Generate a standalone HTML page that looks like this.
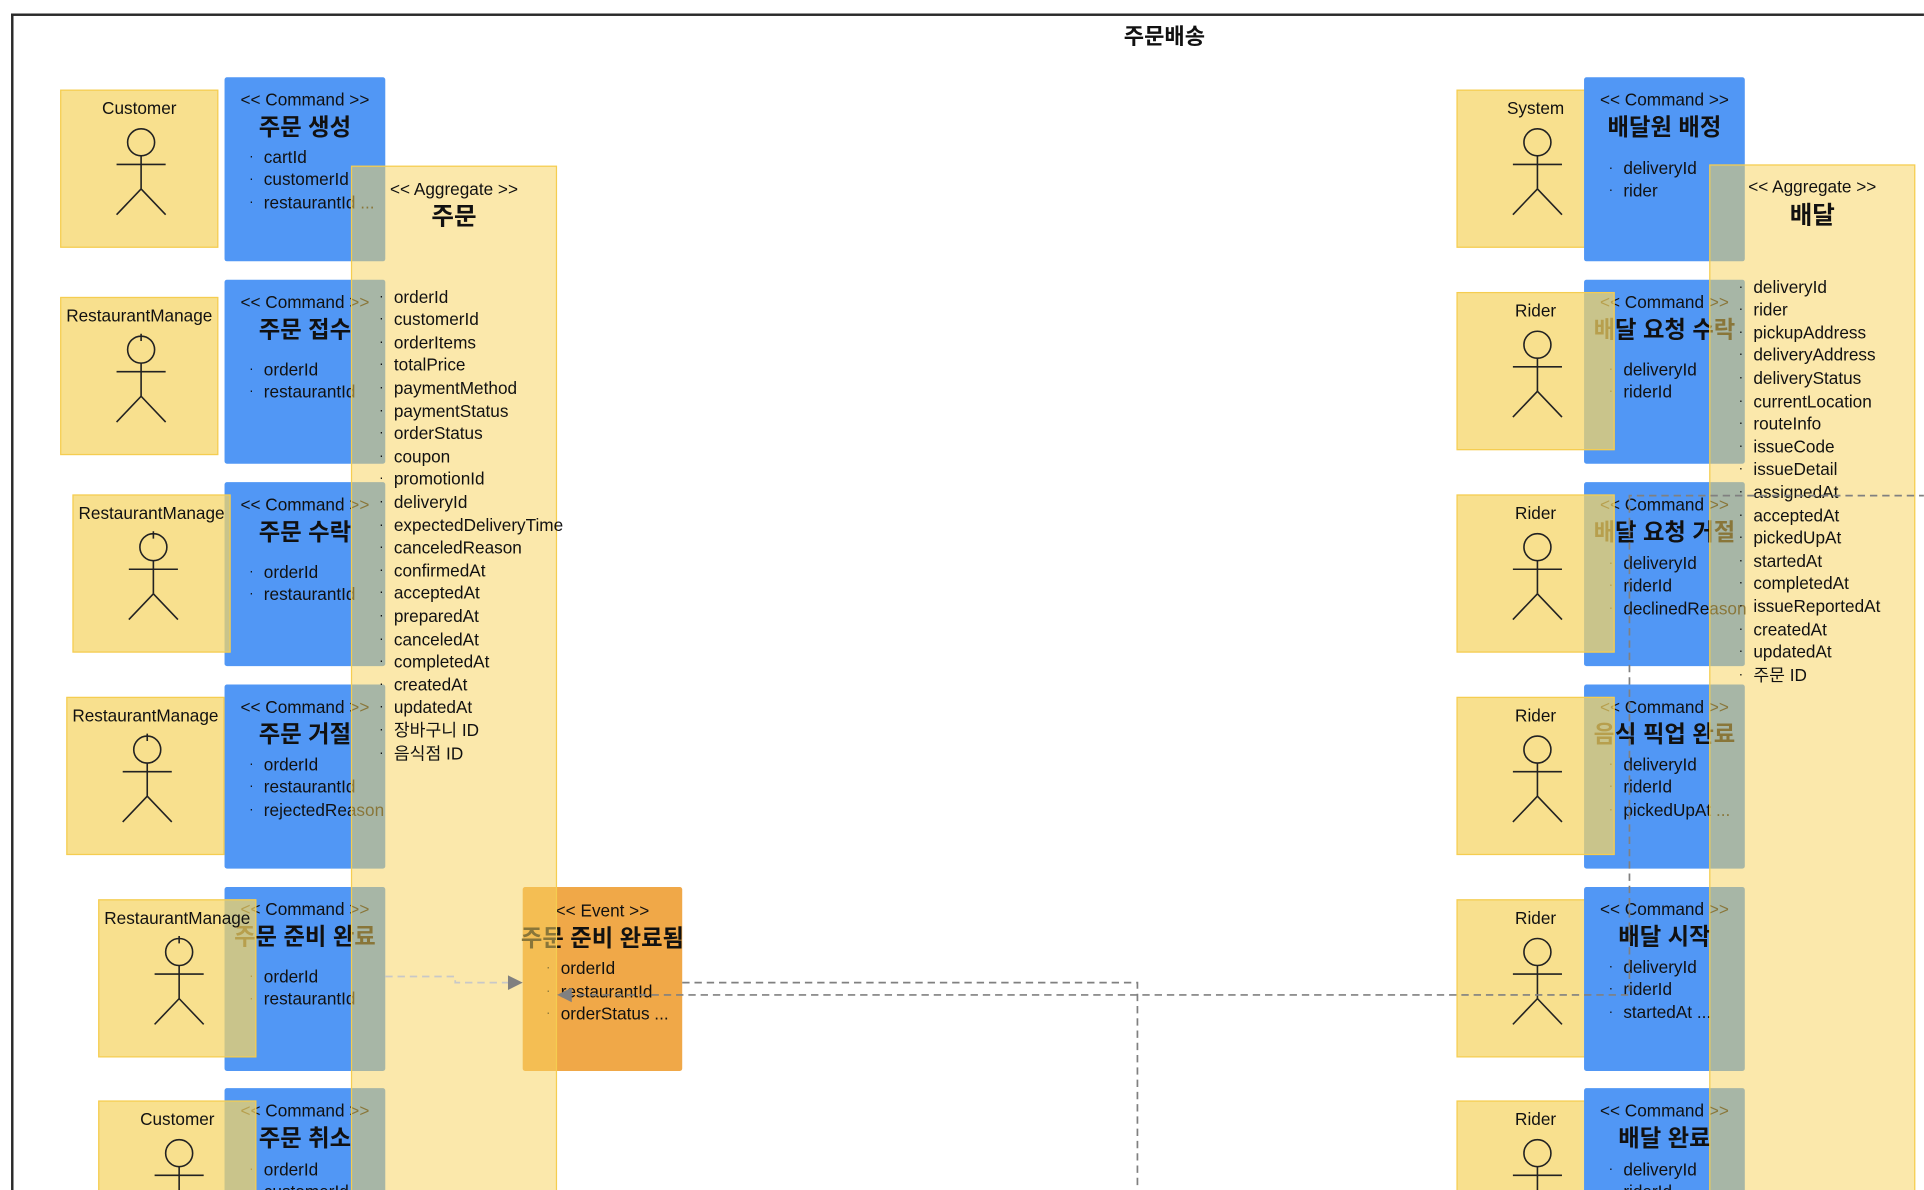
<!DOCTYPE html>
<html><head><meta charset="utf-8">
<style>
html,body{margin:0;padding:0;background:#fff;overflow:hidden}
body{width:1924px;height:1190px;position:relative;overflow:hidden}
#w{position:absolute;left:0;top:0;width:1568px;height:970px;overflow:hidden;transform:scale(1.2270,1.2268);transform-origin:0 0;font-family:"Liberation Sans","Noto Sans CJK KR",sans-serif;color:#111}
.frame{position:absolute;left:9px;top:11px;width:1600px;height:1000px;border-left:2px solid #2a2a2a;border-top:2px solid #2a2a2a}
.title{position:absolute;left:849px;width:200px;top:18px;text-align:center;font-weight:bold;font-size:18px;line-height:24px}
.cmd{position:absolute;z-index:2;width:131px;height:150px;background:#5197f5;border-radius:2px}
.st{position:absolute;left:50%;transform:translateX(-50%);top:9px;font-size:14px;line-height:18px;white-space:nowrap}
.tt{position:absolute;left:50%;transform:translateX(-50%);top:29px;font-size:19px;font-weight:bold;line-height:26px;white-space:nowrap}
.at{position:absolute;left:32px;font-size:14px;line-height:18.6px;white-space:nowrap}
.at div{position:relative}
.at div:before{content:"·";position:absolute;left:-12px;font-size:11px}
.agg{position:absolute;z-index:3;width:166px;height:900px;background:rgba(247,210,94,0.52);border:1.5px solid #f5cd50}
.act{position:absolute;z-index:4;width:127px;height:127px;background:rgba(245,213,100,0.73);border:1.5px solid #f5cd50}
.act.b{z-index:1}
.act .n{position:absolute;left:50%;transform:translateX(-50%);top:5px;font-size:14px;line-height:18px;white-space:nowrap}
.act svg{position:absolute;left:0;top:0}
.ev{position:absolute;z-index:2;left:426px;top:723px;width:130px;height:150px;background:#f0a848;border-radius:2px}
.ln{position:absolute;left:0;top:0;z-index:5}
</style></head><body><div id="w">
<div class="frame"></div>
<div class="title">주문배송</div>

<div class="cmd" style="left:183px;top:63px"><div class="st">&lt;&lt; Command &gt;&gt;</div><div class="tt">주문 생성</div><div class="at" style="top:55.7px"><div>cartId</div><div>customerId</div><div>restaurantId ...</div></div></div>
<div class="cmd" style="left:183px;top:228px"><div class="st">&lt;&lt; Command &gt;&gt;</div><div class="tt">주문 접수</div><div class="at" style="top:63.7px"><div>orderId</div><div>restaurantId</div></div></div>
<div class="cmd" style="left:183px;top:393px"><div class="st">&lt;&lt; Command &gt;&gt;</div><div class="tt">주문 수락</div><div class="at" style="top:63.7px"><div>orderId</div><div>restaurantId</div></div></div>
<div class="cmd" style="left:183px;top:558px"><div class="st">&lt;&lt; Command &gt;&gt;</div><div class="tt">주문 거절</div><div class="at" style="top:55.7px"><div>orderId</div><div>restaurantId</div><div>rejectedReason</div></div></div>
<div class="cmd" style="left:183px;top:723px"><div class="st">&lt;&lt; Command &gt;&gt;</div><div class="tt">주문 준비 완료</div><div class="at" style="top:63.7px"><div>orderId</div><div>restaurantId</div></div></div>
<div class="cmd" style="left:183px;top:887px"><div class="st">&lt;&lt; Command &gt;&gt;</div><div class="tt">주문 취소</div><div class="at" style="top:56.7px"><div>orderId</div><div>customerId</div></div></div>

<div class="cmd" style="left:1291px;top:63px"><div class="st">&lt;&lt; Command &gt;&gt;</div><div class="tt">배달원 배정</div><div class="at" style="top:64.7px"><div>deliveryId</div><div>rider</div></div></div>
<div class="cmd" style="left:1291px;top:228px"><div class="st">&lt;&lt; Command &gt;&gt;</div><div class="tt">배달 요청 수락</div><div class="at" style="top:63.7px"><div>deliveryId</div><div>riderId</div></div></div>
<div class="cmd" style="left:1291px;top:393px"><div class="st">&lt;&lt; Command &gt;&gt;</div><div class="tt">배달 요청 거절</div><div class="at" style="top:56.7px"><div>deliveryId</div><div>riderId</div><div>declinedReason</div></div></div>
<div class="cmd" style="left:1291px;top:558px"><div class="st">&lt;&lt; Command &gt;&gt;</div><div class="tt">음식 픽업 완료</div><div class="at" style="top:55.7px"><div>deliveryId</div><div>riderId</div><div>pickedUpAt ...</div></div></div>
<div class="cmd" style="left:1291px;top:723px"><div class="st">&lt;&lt; Command &gt;&gt;</div><div class="tt">배달 시작</div><div class="at" style="top:55.7px"><div>deliveryId</div><div>riderId</div><div>startedAt ...</div></div></div>
<div class="cmd" style="left:1291px;top:887px"><div class="st">&lt;&lt; Command &gt;&gt;</div><div class="tt">배달 완료</div><div class="at" style="top:56.7px"><div>deliveryId</div><div>riderId</div></div></div>

<div class="ev"><div class="st" style="top:10px">&lt;&lt; Event &gt;&gt;</div><div class="tt" style="top:30px">주문 준비 완료됨</div><div class="at" style="left:31px;top:57px"><div>orderId</div><div>restaurantId</div><div>orderStatus ...</div></div></div>

<div class="agg" style="left:286px;top:135px"><div class="st" style="top:9px">&lt;&lt; Aggregate &gt;&gt;</div><div class="tt" style="top:28px;font-size:20px">주문</div>
<div class="at" style="left:34px;top:96.7px"><div>orderId</div><div>customerId</div><div>orderItems</div><div>totalPrice</div><div>paymentMethod</div><div>paymentStatus</div><div>orderStatus</div><div>coupon</div><div>promotionId</div><div>deliveryId</div><div>expectedDeliveryTime</div><div>canceledReason</div><div>confirmedAt</div><div>acceptedAt</div><div>preparedAt</div><div>canceledAt</div><div>completedAt</div><div>createdAt</div><div>updatedAt</div><div>장바구니 ID</div><div>음식점 ID</div></div></div>
<div class="agg" style="left:1393px;top:134px"><div class="st" style="top:8px">&lt;&lt; Aggregate &gt;&gt;</div><div class="tt" style="top:28px;font-size:20px">배달</div>
<div class="at" style="left:35px;top:89.7px"><div>deliveryId</div><div>rider</div><div>pickupAddress</div><div>deliveryAddress</div><div>deliveryStatus</div><div>currentLocation</div><div>routeInfo</div><div>issueCode</div><div>issueDetail</div><div>assignedAt</div><div>acceptedAt</div><div>pickedUpAt</div><div>startedAt</div><div>completedAt</div><div>issueReportedAt</div><div>createdAt</div><div>updatedAt</div><div>주문 ID</div></div></div>

<div class="act" style="left:49px;top:73px"><div class="n">Customer</div><svg width="129" height="129"><g stroke="#222" stroke-width="1.3" fill="none"><circle cx="65" cy="42" r="11"/><line x1="65" y1="53" x2="65" y2="80"/><line x1="45" y1="60" x2="85" y2="60"/><line x1="65" y1="80" x2="45" y2="101"/><line x1="65" y1="80" x2="85" y2="101"/></g></svg></div>
<div class="act" style="left:49px;top:242px"><div class="n">RestaurantManage</div><svg width="129" height="129"><g stroke="#222" stroke-width="1.3" fill="none"><circle cx="65" cy="42" r="11"/><line x1="65" y1="29" x2="65" y2="35"/><line x1="65" y1="53" x2="65" y2="80"/><line x1="45" y1="60" x2="85" y2="60"/><line x1="65" y1="80" x2="45" y2="101"/><line x1="65" y1="80" x2="85" y2="101"/></g></svg></div>
<div class="act" style="left:59px;top:403px"><div class="n">RestaurantManage</div><svg width="129" height="129"><g stroke="#222" stroke-width="1.3" fill="none"><circle cx="65" cy="42" r="11"/><line x1="65" y1="29" x2="65" y2="35"/><line x1="65" y1="53" x2="65" y2="80"/><line x1="45" y1="60" x2="85" y2="60"/><line x1="65" y1="80" x2="45" y2="101"/><line x1="65" y1="80" x2="85" y2="101"/></g></svg></div>
<div class="act" style="left:54px;top:568px"><div class="n">RestaurantManage</div><svg width="129" height="129"><g stroke="#222" stroke-width="1.3" fill="none"><circle cx="65" cy="42" r="11"/><line x1="65" y1="29" x2="65" y2="35"/><line x1="65" y1="53" x2="65" y2="80"/><line x1="45" y1="60" x2="85" y2="60"/><line x1="65" y1="80" x2="45" y2="101"/><line x1="65" y1="80" x2="85" y2="101"/></g></svg></div>
<div class="act" style="left:80px;top:733px"><div class="n">RestaurantManage</div><svg width="129" height="129"><g stroke="#222" stroke-width="1.3" fill="none"><circle cx="65" cy="42" r="11"/><line x1="65" y1="29" x2="65" y2="35"/><line x1="65" y1="53" x2="65" y2="80"/><line x1="45" y1="60" x2="85" y2="60"/><line x1="65" y1="80" x2="45" y2="101"/><line x1="65" y1="80" x2="85" y2="101"/></g></svg></div>
<div class="act" style="left:80px;top:897px"><div class="n">Customer</div><svg width="129" height="129"><g stroke="#222" stroke-width="1.3" fill="none"><circle cx="65" cy="42" r="11"/><line x1="65" y1="53" x2="65" y2="80"/><line x1="45" y1="60" x2="85" y2="60"/><line x1="65" y1="80" x2="45" y2="101"/><line x1="65" y1="80" x2="85" y2="101"/></g></svg></div>

<div class="act b" style="left:1187px;top:73px"><div class="n">System</div><svg width="129" height="129"><g stroke="#222" stroke-width="1.3" fill="none"><circle cx="65" cy="42" r="11"/><line x1="65" y1="53" x2="65" y2="80"/><line x1="45" y1="60" x2="85" y2="60"/><line x1="65" y1="80" x2="45" y2="101"/><line x1="65" y1="80" x2="85" y2="101"/></g></svg></div>
<div class="act" style="left:1187px;top:238px"><div class="n">Rider</div><svg width="129" height="129"><g stroke="#222" stroke-width="1.3" fill="none"><circle cx="65" cy="42" r="11"/><line x1="65" y1="53" x2="65" y2="80"/><line x1="45" y1="60" x2="85" y2="60"/><line x1="65" y1="80" x2="45" y2="101"/><line x1="65" y1="80" x2="85" y2="101"/></g></svg></div>
<div class="act" style="left:1187px;top:403px"><div class="n">Rider</div><svg width="129" height="129"><g stroke="#222" stroke-width="1.3" fill="none"><circle cx="65" cy="42" r="11"/><line x1="65" y1="53" x2="65" y2="80"/><line x1="45" y1="60" x2="85" y2="60"/><line x1="65" y1="80" x2="45" y2="101"/><line x1="65" y1="80" x2="85" y2="101"/></g></svg></div>
<div class="act" style="left:1187px;top:568px"><div class="n">Rider</div><svg width="129" height="129"><g stroke="#222" stroke-width="1.3" fill="none"><circle cx="65" cy="42" r="11"/><line x1="65" y1="53" x2="65" y2="80"/><line x1="45" y1="60" x2="85" y2="60"/><line x1="65" y1="80" x2="45" y2="101"/><line x1="65" y1="80" x2="85" y2="101"/></g></svg></div>
<div class="act b" style="left:1187px;top:733px"><div class="n">Rider</div><svg width="129" height="129"><g stroke="#222" stroke-width="1.3" fill="none"><circle cx="65" cy="42" r="11"/><line x1="65" y1="53" x2="65" y2="80"/><line x1="45" y1="60" x2="85" y2="60"/><line x1="65" y1="80" x2="45" y2="101"/><line x1="65" y1="80" x2="85" y2="101"/></g></svg></div>
<div class="act b" style="left:1187px;top:897px"><div class="n">Rider</div><svg width="129" height="129"><g stroke="#222" stroke-width="1.3" fill="none"><circle cx="65" cy="42" r="11"/><line x1="65" y1="53" x2="65" y2="80"/><line x1="45" y1="60" x2="85" y2="60"/><line x1="65" y1="80" x2="45" y2="101"/><line x1="65" y1="80" x2="85" y2="101"/></g></svg></div>

<svg class="ln" width="1568" height="970">
<g fill="none" stroke-width="1.4" stroke-dasharray="6,4">
<polyline points="314,796 371,796 371,801 414,801" stroke="#c8c8c8"/>
<polyline points="556,801 927,801 927,975" stroke="#808080"/>
<polyline points="1570,404 1328,404 1328,811 466,811" stroke="#808080"/>
</g>
<polygon points="414,795 426,801 414,807" fill="#808080"/>
<polygon points="466,805 454,811 466,817" fill="#808080"/>
</svg>
</div></body></html>
